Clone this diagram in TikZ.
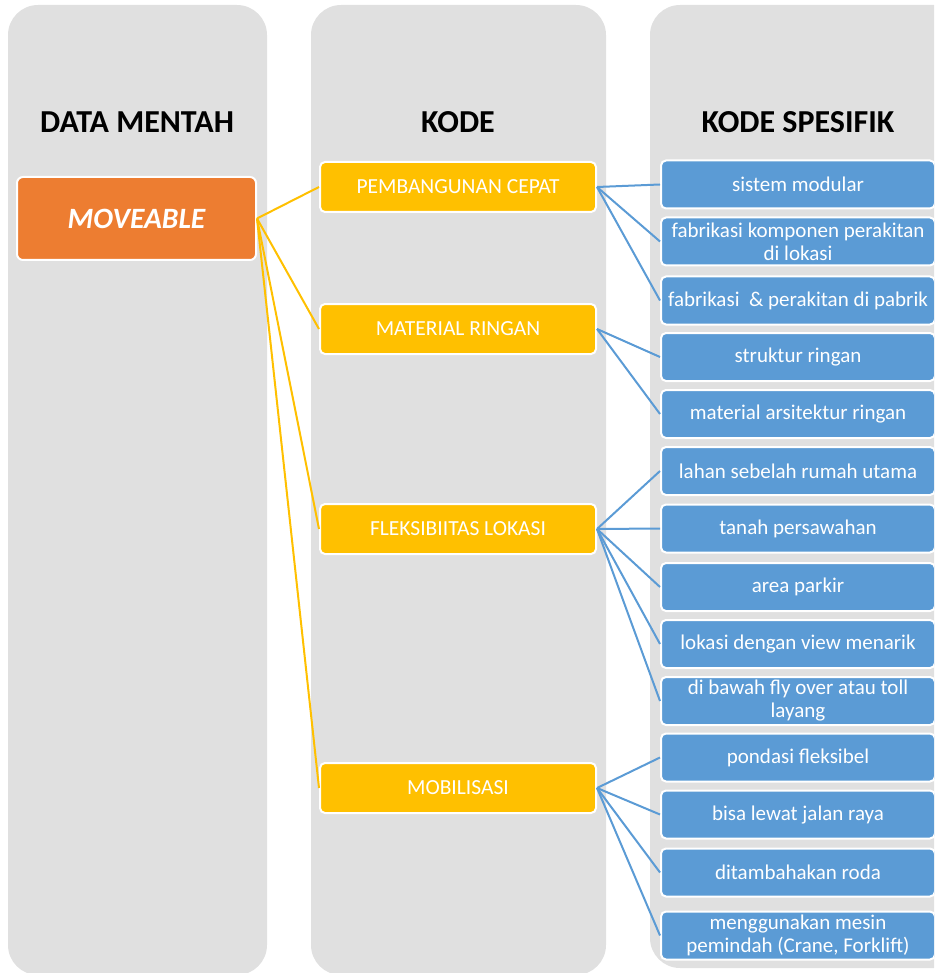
\documentclass[tikz,border=0pt]{standalone}
\usepackage{fontspec}
\setmainfont{Carlito}
\definecolor{colgray}{HTML}{E0E0E0}
\definecolor{orng}{HTML}{ED7D31}
\definecolor{yel}{HTML}{FFC000}
\definecolor{blu}{HTML}{5B9BD5}
\begin{document}
\begin{tikzpicture}[x=1pt,y=-1pt,
  colbox/.style={fill=colgray,rounded corners=30pt},
  title/.style={font=\fontsize{32}{38}\selectfont\bfseries,text=black},
  rawbox/.style={fill=orng,draw=white,line width=2pt,rounded corners=6pt,minimum width=239pt,minimum height=83pt,text=white,font=\fontsize{29.5}{35}\selectfont\bfseries\itshape},
  codebox/.style={fill=yel,draw=white,line width=2pt,rounded corners=5pt,minimum width=276pt,minimum height=50pt,text=white,font=\fontsize{21.5}{26}\selectfont},
  specbox/.style={fill=blu,draw=white,line width=2pt,rounded corners=5pt,minimum width=274pt,minimum height=48pt,text=white,align=center,inner sep=1pt,font=\fontsize{21}{23}\selectfont},
  ylink/.style={draw=yel,line width=2pt},
  blink/.style={draw=blu,line width=2pt}]
\useasboundingbox (0,0) rectangle (934,973);
\begin{scope}
\clip (0,0) rectangle (934,973);
\fill[colbox] (8,5) rectangle (267,975);
\fill[colbox] (311,5) rectangle (606,975);
\fill[colbox] (650,5) rectangle (980,968);
\end{scope}
\node[title] (t1) at (137,122) {DATA MENTAH};
\node[title] (t2) at (458,122) {KODE};
\node[title] (t3) at (798,122) {KODE SPESIFIK};
\node[rawbox] (raw) at (136.5,218.5) {MOVEABLE};
\node[codebox] (c1) at (458,187) {PEMBANGUNAN CEPAT};
\node[codebox] (c2) at (458,329) {MATERIAL RINGAN};
\node[codebox] (c3) at (458,529) {FLEKSIBIITAS LOKASI};
\node[codebox] (c4) at (458,788) {MOBILISASI};
\begin{scope}
\clip (0,0) rectangle (934,973);
\node[specbox] (s1) at (798,184.5) {sistem modular};
\node[specbox] (s2) at (798,241.5) {fabrikasi komponen perakitan\\di lokasi};
\node[specbox] (s3) at (798,300.5) {fabrikasi\ \ \& perakitan di pabrik};
\node[specbox] (s4) at (798,357) {struktur ringan};
\node[specbox] (s5) at (798,414) {material arsitektur ringan};
\node[specbox] (s6) at (798,471) {lahan sebelah rumah utama};
\node[specbox] (s7) at (798,528.5) {tanah persawahan};
\node[specbox] (s8) at (798,587) {area parkir};
\node[specbox] (s9) at (798,644) {lokasi dengan view menarik};
\node[specbox] (s10) at (798,701) {di bawah fly over atau toll\\layang};
\node[specbox] (s11) at (798,757.5) {pondasi fleksibel};
\node[specbox] (s12) at (798,814.5) {bisa lewat jalan raya};
\node[specbox] (s13) at (798,872.5) {ditambahakan roda};
\node[specbox] (s14) at (798,935.5) {menggunakan mesin\\pemindah (Crane, Forklift)};
\end{scope}
\foreach \c in {c1,c2,c3,c4} \draw[ylink] (raw.east) -- (\c.west);
\foreach \s in {s1,s2,s3} \draw[blink] (c1.east) -- (\s.west);
\foreach \s in {s4,s5} \draw[blink] (c2.east) -- (\s.west);
\foreach \s in {s6,s7,s8,s9,s10} \draw[blink] (c3.east) -- (\s.west);
\foreach \s in {s11,s12,s13,s14} \draw[blink] (c4.east) -- (\s.west);
\end{tikzpicture}
\end{document}
